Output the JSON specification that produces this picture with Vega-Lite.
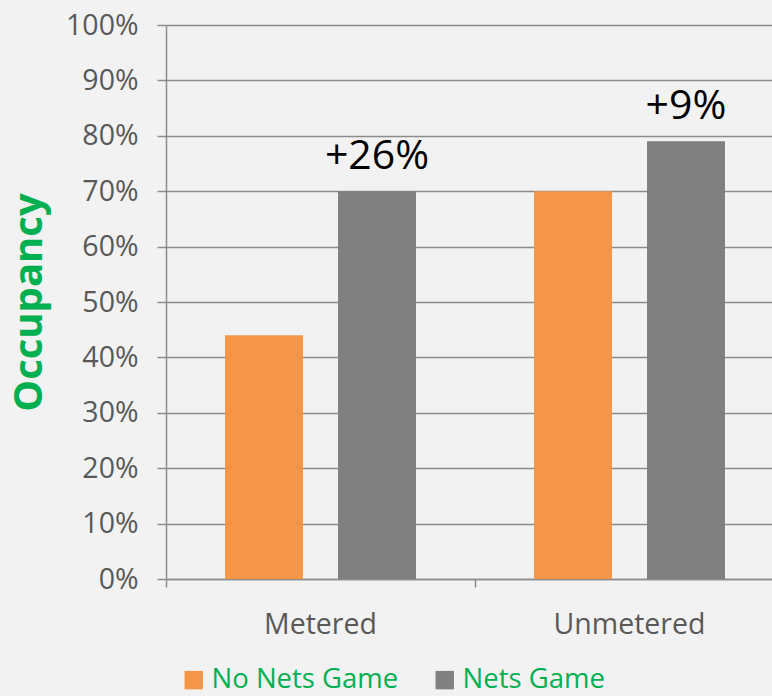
{
  "$schema": "https://vega.github.io/schema/vega-lite/v6.json",
  "width": 618,
  "height": 554,
  "autosize": "none",
  "padding": {"left": 166, "top": 25, "right": 0, "bottom": 117},
  "background": "#f2f2f2",
  "config": {
    "font": "Open Sans",
    "view": {"stroke": null},
    "axis": {"labelFont": "Open Sans", "titleFont": "Open Sans"}
  },
  "data": {
    "values": [
      {"location": "Metered", "game": "No Nets Game", "occupancy": 0.44, "label": ""},
      {"location": "Metered", "game": "Nets Game", "occupancy": 0.70, "label": "+26%"},
      {"location": "Unmetered", "game": "No Nets Game", "occupancy": 0.70, "label": ""},
      {"location": "Unmetered", "game": "Nets Game", "occupancy": 0.79, "label": "+9%"}
    ]
  },
  "encoding": {
    "x": {
      "field": "location",
      "type": "nominal",
      "sort": ["Metered", "Unmetered"],
      "scale": {"paddingInner": 0.382, "paddingOuter": 0.191},
      "axis": {
        "title": null,
        "labelAngle": 0,
        "labelFontSize": 28.5,
        "labelColor": "#595959",
        "labelPadding": 23,
        "bandPosition": -0.309,
        "tickSize": 8,
        "tickColor": "#8c8c8c",
        "tickWidth": 1.5,
        "domainColor": "#8c8c8c",
        "domainWidth": 1.5,
        "grid": false
      }
    },
    "xOffset": {
      "field": "game",
      "type": "nominal",
      "sort": ["No Nets Game", "Nets Game"],
      "scale": {"paddingInner": 0.31, "paddingOuter": 0}
    },
    "y": {
      "field": "occupancy",
      "type": "quantitative",
      "scale": {"domain": [0, 1], "nice": false},
      "axis": {
        "title": "Occupancy",
        "titleFontSize": 40,
        "titleFontWeight": "bold",
        "titleColor": "#00b050",
        "titlePadding": 16,
        "format": ".0%",
        "values": [0, 0.1, 0.2, 0.3, 0.4, 0.5, 0.6, 0.7, 0.8, 0.9, 1.0],
        "labelFontSize": 28.5,
        "labelColor": "#595959",
        "labelPadding": 19,
        "tickSize": 9,
        "tickColor": "#8c8c8c",
        "tickWidth": 1.5,
        "domainColor": "#8c8c8c",
        "domainWidth": 1.5,
        "grid": true,
        "gridColor": "#8c8c8c",
        "gridWidth": 1.5
      }
    }
  },
  "layer": [
    {
      "mark": {"type": "bar"},
      "encoding": {
        "color": {
          "field": "game",
          "type": "nominal",
          "sort": ["No Nets Game", "Nets Game"],
          "scale": {"domain": ["No Nets Game", "Nets Game"], "range": ["#f79646", "#808080"]},
          "legend": {
            "title": null,
            "orient": "none",
            "legendX": 14,
            "legendY": 641,
            "direction": "horizontal",
            "symbolType": "square",
            "symbolSize": 340,
            "symbolStrokeWidth": 0,
            "labelFontSize": 27.5,
            "labelColor": "#00b050",
            "labelFont": "Open Sans",
            "labelOffset": 4,
            "columnPadding": 32,
            "labelLimit": 400
          }
        }
      }
    },
    {
      "mark": {"type": "text", "fontSize": 41, "color": "#000000", "baseline": "alphabetic", "dy": -22, "font": "Open Sans"},
      "encoding": {
        "text": {"field": "label"}
      }
    }
  ]
}
